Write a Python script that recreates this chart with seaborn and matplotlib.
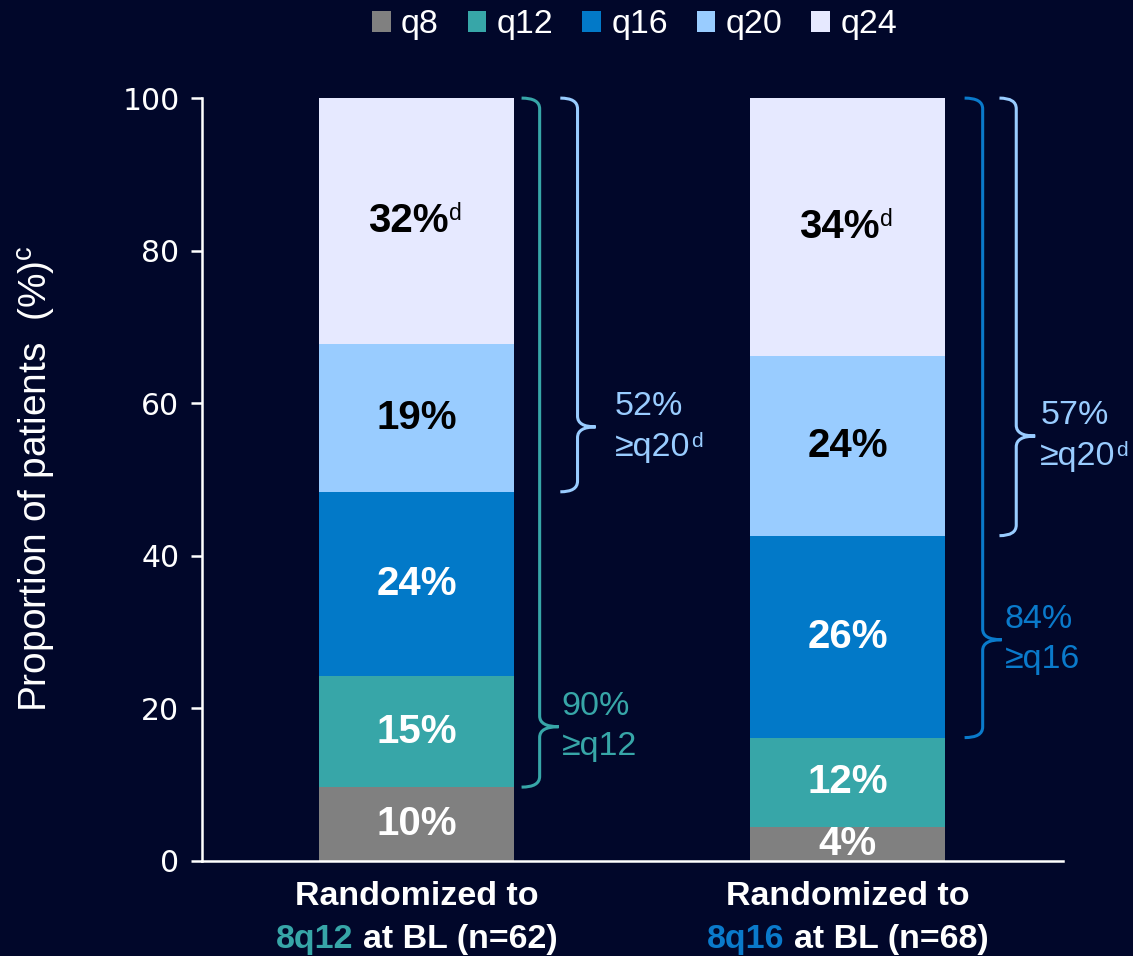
import matplotlib
matplotlib.use("Agg")
import matplotlib.pyplot as plt
import seaborn as sns
import pandas as pd
from matplotlib.path import Path
from matplotlib.patches import PathPatch, Patch

# ---------------- data ----------------
groups = ["8q12", "8q16"]
group_n = [62, 68]
levels = ["q8", "q12", "q16", "q20", "q24"]
q8 = [9.68, 4.41]
q12 = [14.52, 11.76]
q16 = [24.19, 26.47]
q20 = [19.35, 23.53]
q24 = [32.26, 33.82]
yticks = [0, 20, 40, 60, 80, 100]

# ---------------- style ----------------
BG = "#01072A"
colors = {"q8": "#808080", "q12": "#37A6A8", "q16": "#0279C8",
          "q20": "#99CCFF", "q24": "#E6E9FF"}
label_colors = {"q8": "white", "q12": "white", "q16": "white",
                "q20": "black", "q24": "black"}
group_colors = ["#37A6A8", "#0A7ACB"]

sns.set_theme(style="white")
plt.rcParams["font.family"] = ["Liberation Sans", "DejaVu Sans"]
plt.rcParams["mathtext.fontset"] = "custom"
plt.rcParams["mathtext.rm"] = "Liberation Sans"
plt.rcParams["mathtext.bf"] = "Liberation Sans:bold"
plt.rcParams["mathtext.it"] = "Liberation Sans:italic"

FAM = ["Liberation Sans", "DejaVu Sans"]
BAR_FS = 29
BR_FS = 24.5

fig = plt.figure(figsize=(11.33, 9.56), dpi=100, facecolor=BG)
ax = fig.add_axes([0.178, 0.0994, 0.760, 0.798], facecolor=BG)

series = {"q8": q8, "q12": q12, "q16": q16, "q20": q20, "q24": q24}
rows = []
for gi, g in enumerate(groups):
    cum = 0
    for lv in levels:
        v = series[lv][gi]
        rows.append({"group": g, "level": lv, "value": v, "bottom": cum, "top": cum + v})
        cum += v
df = pd.DataFrame(rows)

BW = 0.453
for lv in reversed(levels):
    sub = df[df["level"] == lv]
    sns.barplot(data=sub, x="group", y="top", order=groups, color=colors[lv],
                saturation=1, width=BW, errorbar=None, linewidth=0, ax=ax)

# segment labels
for _, r in df.iterrows():
    gi = groups.index(r["group"])
    txt = f"{int(r['value'] + 0.5)}%"
    xc = gi - 0.02 if r["level"] == "q24" else gi
    t = ax.text(xc, r["bottom"] + r["value"] / 2, txt, ha="center", va="center",
                family=FAM, fontsize=BAR_FS, fontweight="bold",
                color=label_colors[r["level"]])
    if r["level"] == "q24":
        ax.annotate("d", xy=(1, 1), xycoords=t, xytext=(0.5, 0), textcoords="offset points",
                    ha="left", va="top", fontsize=16.5,
                    family=FAM, color=label_colors[r["level"]])

# axes styling
ax.set_xlim(-0.5, 1.5)
ax.set_ylim(0, 100)
ax.set_yticks(yticks)
ax.set_yticklabels([str(t) for t in yticks], family="DejaVu Sans", fontsize=21.5, color="white")
ax.set_xticks([0, 1])
ax.set_xticklabels(["", ""])
ax.set_xticks([-0.5, 0.5, 1.5], minor=True)
ax.tick_params(axis="x", which="major", length=0)
ax.tick_params(axis="x", which="minor", length=8, width=1.8, color="white", direction="out")
ax.tick_params(axis="y", length=8, width=1.8, color="white", direction="out", pad=8, left=True)
for s in ["top", "right"]:
    ax.spines[s].set_visible(False)
for s in ["left", "bottom"]:
    ax.spines[s].set_color("white")
    ax.spines[s].set_linewidth(1.8)
ax.set_xlabel("")
ax.set_ylabel("")

fig.text(0.033, 0.499, r"Proportion of patients  (%)$^{\mathrm{c}}$", rotation=90,
         ha="center", va="center", fontsize=28, color="white")

# brackets
def brace(x0, x1, xt, ybot, ytop, ytip, color, ry=1.4):
    verts = [(x0, ytop), (x1, ytop), (x1, ytop - ry),
             (x1, ytip + ry), (x1, ytip), (xt, ytip),
             (xt, ytip), (x1, ytip), (x1, ytip - ry),
             (x1, ybot + ry), (x1, ybot), (x0, ybot)]
    codes = [Path.MOVETO, Path.CURVE3, Path.CURVE3,
             Path.LINETO, Path.CURVE3, Path.CURVE3,
             Path.MOVETO, Path.CURVE3, Path.CURVE3,
             Path.LINETO, Path.CURVE3, Path.CURVE3]
    ax.add_patch(PathPatch(Path(verts, codes), fill=False, edgecolor=color,
                           linewidth=2.2, clip_on=False))

def brace_text(x, y, l1, l2, color, sup=False):
    ax.annotate(l1, xy=(x, y), xytext=(0, 14.5), textcoords="offset points",
                ha="left", va="center", fontsize=BR_FS, color=color,
                family=FAM, annotation_clip=False)
    t2 = ax.annotate(l2, xy=(x, y), xytext=(0, -14.5), textcoords="offset points",
                     ha="left", va="center", fontsize=BR_FS, color=color,
                     family=FAM, annotation_clip=False)
    if sup:
        ax.annotate("d", xy=(1, 1), xycoords=t2, xytext=(0.5, 0), textcoords="offset points",
                    ha="left", va="top", fontsize=15, color=color,
                    family=FAM, annotation_clip=False)

g0 = df[df["group"] == groups[0]].set_index("level")
g1 = df[df["group"] == groups[1]].set_index("level")
ge_q12_0 = g0.loc["q12":, "value"].sum()
ge_q20_0 = g0.loc["q20":, "value"].sum()
ge_q16_1 = g1.loc["q16":, "value"].sum()
ge_q20_1 = g1.loc["q20":, "value"].sum()

brace(0.243, 0.285, 0.329, g0.loc["q12", "bottom"], 100, 17.6, colors["q12"])
brace_text(0.336, 17.6, f"{int(ge_q12_0 + 0.5)}%", "≥q12", colors["q12"])
brace(0.333, 0.373, 0.415, g0.loc["q20", "bottom"], 100, 56.9, colors["q20"])
brace_text(0.459, 56.9, f"{int(ge_q20_0 + 0.5)}%", "≥q20", colors["q20"], sup=True)

brace(1.272, 1.314, 1.358, g1.loc["q16", "bottom"], 100, 29.0, group_colors[1])
brace_text(1.365, 29.0, f"{int(ge_q16_1 + 0.5)}%", "≥q16", group_colors[1])
brace(1.353, 1.392, 1.436, g1.loc["q20", "bottom"], 100, 55.7, colors["q20"])
brace_text(1.448, 55.7, f"{int(ge_q20_1 + 0.5)}%", "≥q20", colors["q20"], sup=True)

# x labels (two lines, multicolour second line)
xtr = ax.get_xaxis_transform()
fig.canvas.draw()
renderer = fig.canvas.get_renderer()
XL_FS = 24.5
for gi, g in enumerate(groups):
    ax.annotate("Randomized to", xy=(gi, 0), xycoords=xtr, xytext=(0, -25.5),
                textcoords="offset points", ha="center", va="center",
                fontsize=XL_FS, fontweight="bold", color="white", annotation_clip=False)
    rest = f"at BL (n={group_n[gi]})"
    full = f"{g} {rest}"
    tmp = fig.text(0, 0, full, fontsize=XL_FS, fontweight="bold")
    w = tmp.get_window_extent(renderer).width
    tmp.remove()
    half_pt = (w / 2) * 72 / fig.dpi
    ax.annotate(g, xy=(gi, 0), xycoords=xtr, xytext=(-half_pt, -56.5),
                textcoords="offset points", ha="left", va="center",
                fontsize=XL_FS, fontweight="bold", color=group_colors[gi], annotation_clip=False)
    ax.annotate(rest, xy=(gi, 0), xycoords=xtr, xytext=(half_pt, -56.5),
                textcoords="offset points", ha="right", va="center",
                fontsize=XL_FS, fontweight="bold", color="white", annotation_clip=False)

# legend
handles = [Patch(facecolor=colors[lv], edgecolor="none") for lv in levels]
fig.legend(handles, levels, loc="center", bbox_to_anchor=(0.56, 0.974), ncol=5,
           frameon=False, fontsize=24.5, handlelength=0.55, handleheight=0.6,
           handletextpad=0.3, columnspacing=0.85, labelcolor="white")

fig.savefig("out.png", dpi=100, facecolor=BG)
